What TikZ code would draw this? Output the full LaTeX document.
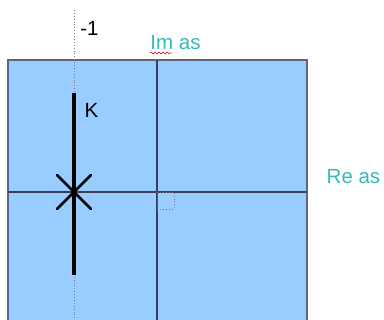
\documentclass[tikz,border=0pt]{standalone}
\usepackage{fontspec}
\setmainfont{Liberation Sans}
\usetikzlibrary{decorations.pathmorphing,calc}
\definecolor{planefill}{HTML}{99CCFF}
\definecolor{axisc}{HTML}{3A3F5A}
\definecolor{labc}{HTML}{33BBBB}
\begin{document}
\begin{tikzpicture}[x=1pt,y=-1pt,
  axis/.style={draw=axisc,line width=1.1pt},
  dotline/.style={draw=axisc!70,dotted,line width=0.9pt},
  locus/.style={draw=black,line width=3.4pt},
  lab/.style={font=\fontsize{20.5}{22}\selectfont,inner sep=0pt,anchor=center},
  axlab/.style={lab,text=labc}]
\useasboundingbox (0,0) rectangle (384,320);
\fill[planefill] (8,60) rectangle (307,322);
\draw[axisc!80,line width=1.2pt] (8,322) -- (8,60) -- (307,60) -- (307,322);
\coordinate (imtop) at (157,60);
\coordinate (imbot) at (157,322);
\coordinate (releft) at (8,192);
\coordinate (reright) at (307,192);
\draw[axis] (imtop) -- (imbot);
\draw[axis] (releft) -- (reright);
\coordinate (dtop) at (74,10);
\coordinate (dbot) at (74,320);
\draw[dotline] (dtop) -- (dbot);
\coordinate (ktop) at (74,93);
\coordinate (kbot) at (74,275);
\draw[locus] (ktop) -- (kbot);
\coordinate (pole) at (74,192);
\draw[black,line width=2.8pt,line cap=round] ($(pole)+(-17,-17)$) -- ($(pole)+(17,17)$);
\draw[black,line width=2.8pt,line cap=round] ($(pole)+(-17,17)$) -- ($(pole)+(17,-17)$);
\draw[dotline] (157,192) rectangle (174,209);
\node[lab] (m1) at (89.5,28) {-1};
\node[lab] (k) at (91.5,110) {K};
\node[axlab] (im) at (175.5,43) {Im as};
\node[axlab] (re) at (353.5,177) {Re as};
\draw[red!80!black,line width=0.5pt,decorate,decoration={snake,amplitude=1pt,segment length=4pt}] (150,53) -- (172,53);
\end{tikzpicture}
\end{document}
